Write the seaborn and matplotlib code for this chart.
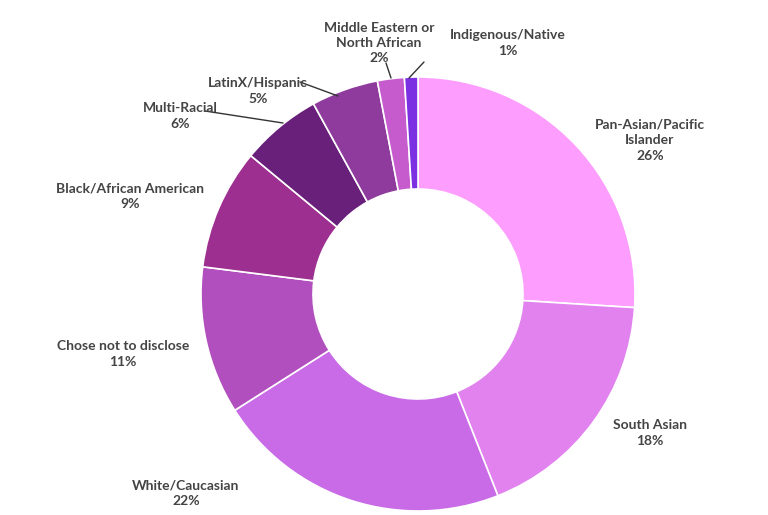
import matplotlib.pyplot as plt
import seaborn as sns

labels = ["Pan-Asian/Pacific\nIslander", "South Asian", "White/Caucasian",
          "Chose not to disclose", "Black/African American", "Multi-Racial",
          "LatinX/Hispanic", "Middle Eastern or\nNorth African", "Indigenous/Native"]
values = [26, 18, 22, 11, 9, 6, 5, 2, 1]
colors = ["#fd9dfd", "#e182ef", "#c96be6", "#b24fbe", "#9c2f8f",
          "#68207a", "#8e3b9d", "#c65bcd", "#7b30e2"]

# label text positions in pixel space (y measured from top)
label_pos = [(650, 140), (650, 433), (186, 493), (123, 354), (130, 196),
             (180, 116), (258, 91), (379, 43), (508, 43)]
leaders = {5: [(283, 123), (205, 111)], 6: [(338, 96), (300, 82)],
           7: [(391, 78), (386, 63)], 8: [(409, 78), (424, 62)]}

sns.set_theme(style="white")
fig = plt.figure(figsize=(7.68, 5.15), dpi=100)
ax = fig.add_axes([0, 0, 1, 1])
H = 515
cx, cy, r = 418, H - 294, 217
ax.pie(values, colors=colors, startangle=90, counterclock=False,
       center=(cx, cy), radius=r, frame=True,
       wedgeprops=dict(width=112, edgecolor="white", linewidth=1.2))
ax.set_xlim(0, 768)
ax.set_ylim(0, H)
ax.set_aspect("equal")
ax.axis("off")

for i, (lab, v) in enumerate(zip(labels, values)):
    x, y = label_pos[i]
    ax.text(x, H - y, f"{lab}\n{v}%", ha="center", va="center",
            fontsize=10, fontweight="bold", family="Lato", color="#444444",
            linespacing=1.35)
for pts in leaders.values():
    ax.plot([p[0] for p in pts], [H - p[1] for p in pts], color="#333333", lw=1)

fig.savefig("out.png", dpi=100)
